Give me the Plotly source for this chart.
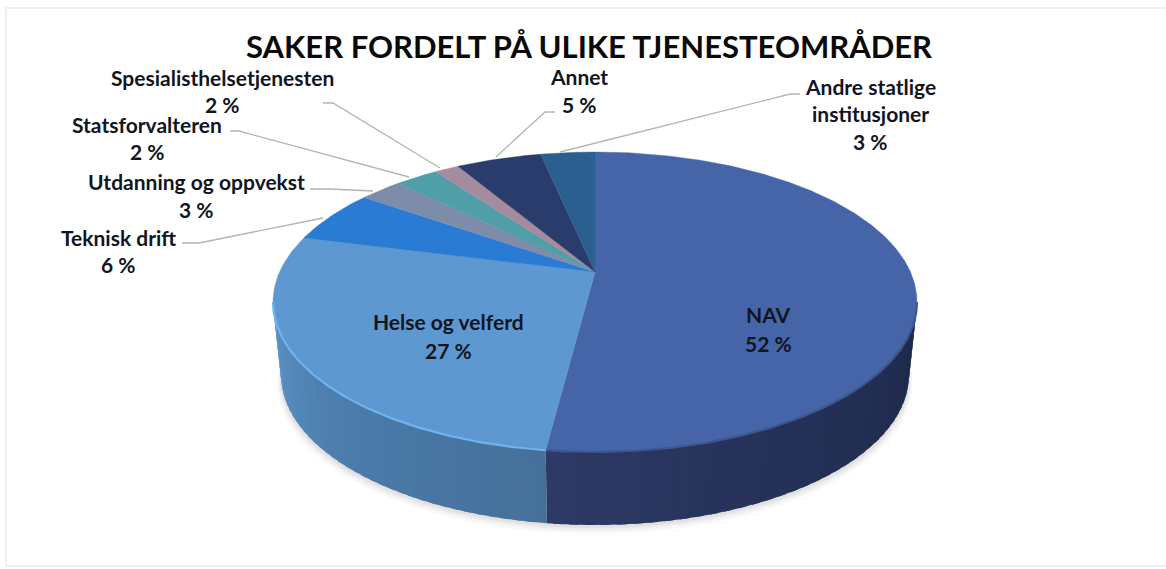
import math
import plotly.graph_objects as go

# ---- data
TITLE = "SAKER FORDELT PÅ ULIKE TJENESTEOMRÅDER"
categories = ["NAV", "Helse og velferd", "Teknisk drift", "Utdanning og oppvekst",
              "Statsforvalteren", "Spesialisthelsetjenesten", "Annet",
              "Andre statlige institusjoner"]
values = [52, 27, 6, 3, 2, 2, 5, 3]                     # printed labels
shares = [52.0, 27.0, 5.8, 2.6, 2.6, 1.5, 5.2, 3.3]     # slice sizes as drawn

# ---- styling
top_colors = ["#4664a8", "#5e98d0", "#2a7bd3", "#7d8ca8", "#4f9ea8", "#a48b9d", "#2a3c6b", "#2b5f8f"]
rim_colors = {0: "#3d5590", 1: "#72b2ee"}
side_stops = {
    0: [(0.0, (29, 41, 74)), (0.65, (38, 50, 89)), (1.0, (45, 58, 102))],
    1: [(0.0, (69, 112, 154)), (0.5, (75, 124, 171)), (1.0, (93, 147, 201))],
}
label_lines = {
    0: [(768, 314, "NAV"), (768, 343, None)],
    1: [(448, 321, "Helse og velferd"), (448, 350, None)],
    2: [(118, 237, "Teknisk drift"), (118, 264, None)],
    3: [(196, 181, "Utdanning og oppvekst"), (196, 209, None)],
    4: [(147, 124, "Statsforvalteren"), (147, 151, None)],
    5: [(222, 77, "Spesialisthelsetjenesten"), (222, 104, None)],
    6: [(579, 76, "Annet"), (579, 104, None)],
    7: [(870, 86, "Andre statlige"), (870, 113, "institusjoner"), (870, 141, None)],
}
leaders = [
    ([182, 199, 323], [243, 243, 218]),
    ([310, 329, 373], [189, 189, 191]),
    ([230, 239, 409], [131, 131, 177]),
    ([323, 333, 440], [103, 103, 168]),
    ([555, 545, 496], [112, 112, 157]),
    ([800, 790, 560], [94, 94, 152]),
]

# perspective disc: apex (CX, CY), back edge at 152, front edge at 452
CX, CY, R, PERSP, BACK = 595, 272, 315.5, 0.2, -89.6
DEPTH, SHRINK = 73, 0.975


def top(theta):
    u, v = math.sin(theta), math.cos(theta)
    w = 1 + PERSP * v
    return CX + R * u / w, (CY + BACK * v) / w


def bottom(theta, extra=0.0, scale=1.0):
    x, y = top(theta)
    return CX + (x - CX) * SHRINK * scale, y + DEPTH + extra


def arc(a, b, fn=top, step=0.01):
    n = max(2, int(abs(b - a) / step))
    return [fn(a + (b - a) * i / n) for i in range(n + 1)]


def mix(stops, t):
    for (t0, c0), (t1, c1) in zip(stops, stops[1:]):
        if t <= t1:
            f = (t - t0) / (t1 - t0)
            return "rgb(%d,%d,%d)" % tuple(round(p + (q - p) * f) for p, q in zip(c0, c1))
    return "rgb(%d,%d,%d)" % stops[-1][1]


def poly(points, color, line=0.0, line_color=None):
    return go.Scatter(x=[p[0] for p in points], y=[p[1] for p in points], mode="lines",
                      fill="toself", fillcolor=color,
                      line=dict(width=line, color=line_color or color),
                      hoverinfo="skip", showlegend=False)


fig = go.Figure()

# soft shadow under the disc
for extra, scale, alpha in [(9, 1.012, 0.03), (7, 1.009, 0.04), (5, 1.006, 0.05), (3, 1.003, 0.07)]:
    fig.add_trace(poly(arc(0, 2 * math.pi, lambda t, e=extra, s=scale: bottom(t, e, s)),
                       "rgba(90,90,90,%g)" % alpha))

# slice boundaries, clockwise from 12 o'clock
total = sum(shares)
angles = [0.0]
for v in shares:
    angles.append(angles[-1] + 2 * math.pi * v / total)

# visible wall between the widest points of the ellipse
wall_a = math.acos(-PERSP)
wall_b = 2 * math.pi - wall_a
for i in (0, 1):
    a = max(angles[i], wall_a)
    b = min(angles[i + 1], wall_b)
    strips = 36
    for k in range(strips):
        s0 = a + (b - a) * k / strips
        # each strip runs on under the next one so no seam shows
        s1 = a + (b - a) * min(k + 1.6, strips) / strips
        t = (k + 0.5) / strips
        pts = arc(s0, s1, top) + arc(s1, s0, bottom)
        fig.add_trace(poly(pts, mix(side_stops[i], t), 0))

# top faces
for i, col in enumerate(top_colors):
    pts = [(CX, CY)] + arc(angles[i], angles[i + 1]) + [(CX, CY)]
    fig.add_trace(poly(pts, col, 0.4))

# bright rim along the front edge
for i in (0, 1):
    a = max(angles[i], wall_a)
    b = min(angles[i + 1], wall_b)
    pts = arc(a, b)
    fig.add_trace(go.Scatter(x=[p[0] for p in pts], y=[p[1] for p in pts], mode="lines",
                             line=dict(width=2.2, color=rim_colors[i]),
                             hoverinfo="skip", showlegend=False))

# leader lines
for xs, ys in leaders:
    fig.add_trace(go.Scatter(x=xs, y=ys, mode="lines", line=dict(width=1.3, color="#b4b4b4"),
                             hoverinfo="skip", showlegend=False))

# texts
ann = [dict(x=589, y=46, text=f"<b>{TITLE}</b>", showarrow=False,
            font=dict(family="Lato", size=31, color="#0a0a0a"))]
for i, lines in label_lines.items():
    for x, y, t in lines:
        ann.append(dict(x=x, y=y, text=f"<b>{t if t else str(values[i]) + ' %'}</b>", showarrow=False,
                        font=dict(family="Lato", size=21, color="#11151f")))

frame = dict(type="rect", x0=6, y0=8, x1=1175, y1=566, line=dict(color="#efefef", width=2),
             layer="below")

fig.update_layout(
    width=1166, height=569, margin=dict(l=0, r=0, t=0, b=0),
    paper_bgcolor="#ffffff", plot_bgcolor="#ffffff", showlegend=False,
    xaxis=dict(range=[0, 1166], visible=False, fixedrange=True),
    yaxis=dict(range=[569, 0], visible=False, fixedrange=True),
    annotations=ann, shapes=[frame],
)
fig.write_html("out.html", post_script="document.body.style.margin='0';",
               config=dict(displayModeBar=False))
